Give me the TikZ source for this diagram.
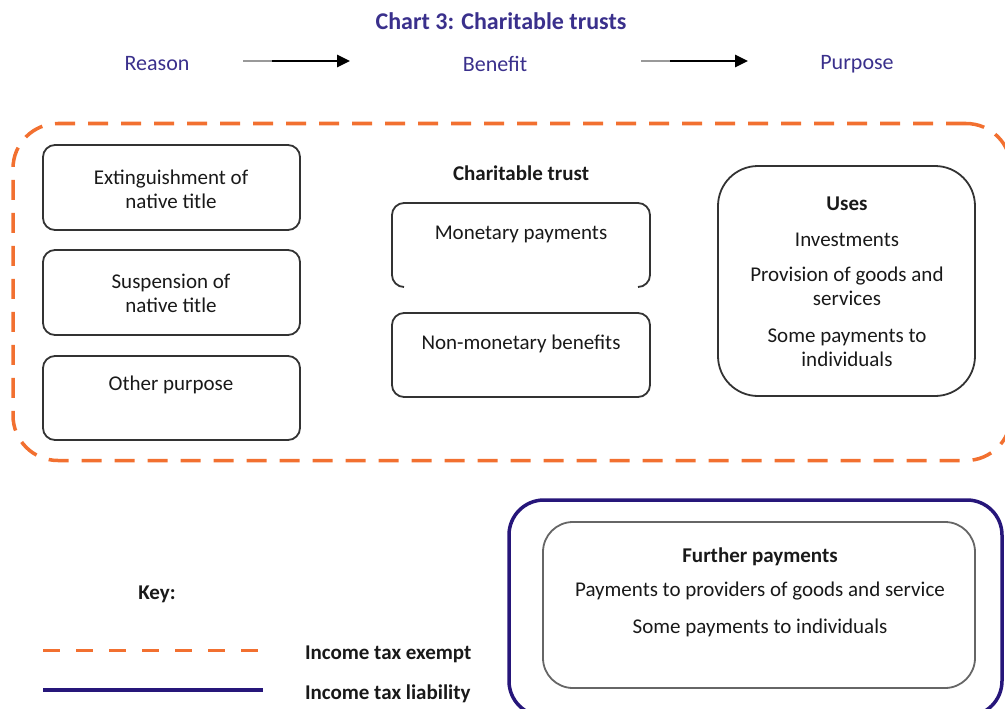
\documentclass[tikz,border=0pt]{standalone}
\usepackage{fontspec}
\setmainfont{Carlito}
\usetikzlibrary{arrows.meta,calc}
\definecolor{orng}{RGB}{242,112,48}
\definecolor{navy}{RGB}{38,22,122}
\definecolor{ttl}{RGB}{58,48,140}
\definecolor{ink}{RGB}{25,25,25}
\begin{document}
\begin{tikzpicture}[x=1pt,y=-1pt,
  every node/.style={font=\fontsize{21}{24}\selectfont, text=ink, inner sep=0pt, outer sep=0pt},
  hdr/.style={font=\fontsize{22}{26}\selectfont, text=ttl},
  bld/.style={font=\fontsize{21}{24}\selectfont\bfseries},
  gbox/.style={draw=black!80, line width=1.8pt, rounded corners=12pt, minimum width=257pt},
  flowarrow/.style={line width=2.6pt, -{Triangle[length=13pt,width=12pt]}},
  exemptline/.style={draw=orng, line width=3.5pt, dash pattern=on 20pt off 13pt},
  liabline/.style={draw=navy, line width=3.5pt}]
\useasboundingbox (0,0) rectangle (1005,709);
\begin{scope}
\clip (0,0) rectangle (1005,709);

% title and headers
\node[font=\fontsize{24}{27}\selectfont\bfseries, text=ttl] (title) at (501,21) {Chart 3: Charitable trusts};
\node[hdr] (reason) at (157,64) {Reason};
\node[hdr] (benefit) at (495,64) {Benefit};
\node[hdr] (purpose) at (857,64) {Purpose};
\coordinate (a1s) at (243,61);
\coordinate (a1m) at (272,61);
\coordinate (a1e) at (350,61);
\coordinate (a2s) at (641,61);
\coordinate (a2m) at (670,61);
\coordinate (a2e) at (748,61);
\draw[line width=2.6pt, black!40] (a1s) -- (a1m);
\draw[flowarrow] (a1m) -- (a1e);
\draw[line width=2.6pt, black!40] (a2s) -- (a2m);
\draw[flowarrow] (a2m) -- (a2e);

% orange exempt region
\node[exemptline, rounded corners=45pt, minimum width=998pt, minimum height=337pt] (exempt) at (512,292) {};

% left column
\node[gbox, minimum height=85pt] (ext) at (171.5,187.5) {};
\node[align=center] (extt) at (171,189) {Extinguishment of\\native title};
\node[gbox, minimum height=85pt] (sus) at (171.5,292.5) {};
\node[align=center] (sust) at (171,293) {Suspension of\\native title};
\node[gbox, minimum height=84pt] (oth) at (171.5,398) {};
\node (otht) at (171,385) {Other purpose};

% middle column
\node[bld] (ct) at (521,173) {Charitable trust};
\node[minimum width=258pt, minimum height=84pt] (mon) at (521,245) {};
\draw[draw=black!80, line width=1.8pt, rounded corners=12pt]
  ($(mon.south west)+(12,0)$) -- (mon.south west) -- (mon.north west) -- (mon.north east) -- (mon.south east) -- ($(mon.south east)+(-12,0)$);
\node (mont) at (521,234) {Monetary payments};
\node[gbox, minimum width=258pt, minimum height=84pt] (non) at (521,355) {};
\node (nont) at (521,344) {Non-monetary benefits};

% right column
\node[draw=black!80, line width=1.8pt, rounded corners=40pt, minimum width=257pt, minimum height=230pt] (uses) at (846.5,281) {};
\node[bld] (usest) at (847,204) {Uses};
\node (inv) at (847,240) {Investments};
\node[align=center] (prov) at (847,286) {Provision of goods and\\services};
\node[align=center] (some) at (847,348) {Some payments to\\individuals};

% liability region
\node[liabline, rounded corners=35pt, minimum width=493pt, minimum height=216pt] (liab) at (755.5,608) {};
\node[draw=black!60, line width=1.8pt, rounded corners=30pt, minimum width=432pt, minimum height=166pt] (further) at (759,605) {};
\node[bld] (furt) at (760,557) {Further payments};
\node (prv) at (760,591) {Payments to providers of goods and service};
\node (indv) at (760,628) {Some payments to individuals};

% key
\node[bld] (key) at (157,594) {Key:};
\coordinate (k1s) at (43,650);
\coordinate (k1e) at (258,650);
\coordinate (k2s) at (43,690);
\coordinate (k2e) at (263,690);
\draw[exemptline, line width=3pt, dash pattern=on 17pt off 16pt] (k1s) -- (k1e);
\draw[liabline, line width=4.5pt] (k2s) -- (k2e);
\node[bld, anchor=west] (kex) at (305,654) {Income tax exempt};
\node[bld, anchor=west] (kli) at (305,694) {Income tax liability};
\end{scope}
\end{tikzpicture}
\end{document}
